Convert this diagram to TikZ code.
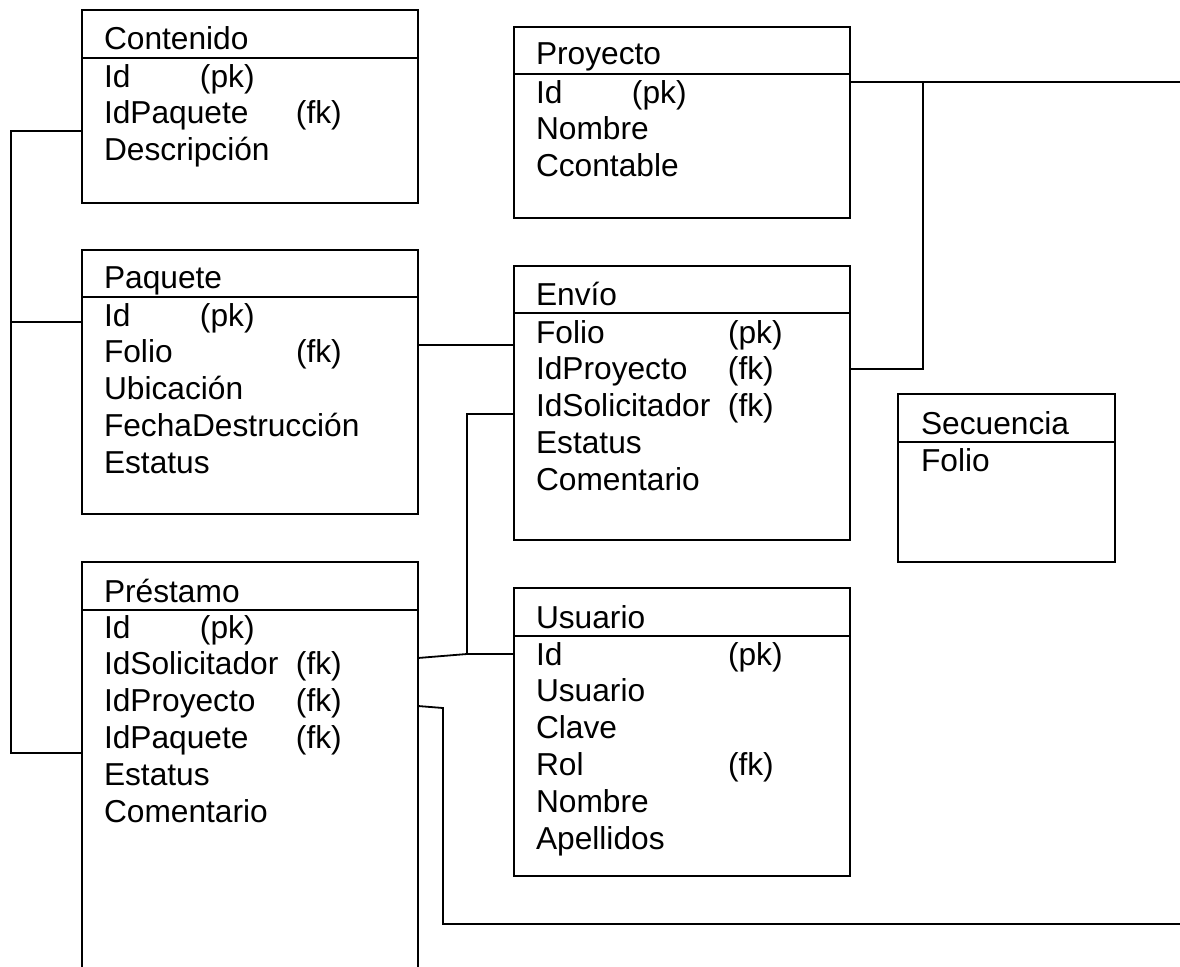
\documentclass[tikz,border=0pt]{standalone}
\usepackage{fontspec}
\setmainfont{Liberation Sans}
% field name padded to a fixed tab, followed by its key marker
\newcommand\colS[2]{\makebox[96pt][l]{#1}#2}
\newcommand\colL[2]{\makebox[192pt][l]{#1}#2}
% one text node per field line, named <table>-<n>
\newcommand\fieldrows[4]{%
  \foreach \t [count=\i] in {#4} {\node[txt] (#1-\i) at (#2,{#3+36.8*(\i-1)}) {\t};}}
\begin{document}
\begin{tikzpicture}[x=1pt,y=-1pt,
  tbl/.style={draw, line width=1.8pt, anchor=north west, inner sep=0pt, outer sep=0pt},
  sep/.style={line width=1.8pt},
  txt/.style={anchor=base west, inner sep=0pt, outer sep=0pt, font=\fontsize{31.7}{36.8}\selectfont},
  link/.style={line width=1.8pt},
  thinlink/.style={line width=1.2pt}]
\clip (0,0) rectangle (1180,966);

% Contenido
\node[tbl, minimum width=336pt, minimum height=193pt] (conten) at (82,10) {};
\draw[sep] (conten.west |- 0,58) -- (conten.east |- 0,58);
\node[txt] (conten-t) at (104,49) {Contenido};
\fieldrows{conten}{104}{87}{\colS{Id}{(pk)}, \colL{IdPaquete}{(fk)}, Descripción}

% Proyecto
\node[tbl, minimum width=336pt, minimum height=191pt] (proyec) at (514,27) {};
\draw[sep] (proyec.west |- 0,74) -- (proyec.east |- 0,74);
\node[txt] (proyec-t) at (536,65) {Proyecto};
\fieldrows{proyec}{536}{103}{\colS{Id}{(pk)}, Nombre, Ccontable}

% Paquete
\node[tbl, minimum width=336pt, minimum height=264pt] (paquet) at (82,250) {};
\draw[sep] (paquet.west |- 0,297) -- (paquet.east |- 0,297);
\node[txt] (paquet-t) at (104,288) {Paquete};
\fieldrows{paquet}{104}{326}{\colS{Id}{(pk)}, \colL{Folio}{(fk)}, Ubicación, FechaDestrucción, Estatus}

% Envío
\node[tbl, minimum width=336pt, minimum height=274pt] (envio) at (514,266) {};
\draw[sep] (envio.west |- 0,313) -- (envio.east |- 0,313);
\node[txt] (envio-t) at (536,305) {Envío};
\fieldrows{envio}{536}{343}{\colL{Folio}{(pk)}, \colL{IdProyecto}{(fk)}, \colL{IdSolicitador}{(fk)}, Estatus, Comentario}

% Secuencia
\node[tbl, minimum width=217pt, minimum height=168pt] (secuen) at (898,394) {};
\draw[sep] (secuen.west |- 0,442) -- (secuen.east |- 0,442);
\node[txt] (secuen-t) at (921,434) {Secuencia};
\fieldrows{secuen}{921}{471}{Folio}

% Préstamo (runs past the lower edge)
\node[tbl, minimum width=336pt, minimum height=410pt] (presta) at (82,562) {};
\draw[sep] (presta.west |- 0,610) -- (presta.east |- 0,610);
\node[txt] (presta-t) at (104,602) {Préstamo};
\fieldrows{presta}{104}{638}{\colS{Id}{(pk)}, \colL{IdSolicitador}{(fk)}, \colL{IdProyecto}{(fk)}, \colL{IdPaquete}{(fk)}, Estatus, Comentario}

% Usuario
\node[tbl, minimum width=336pt, minimum height=288pt] (usuari) at (514,588) {};
\draw[sep] (usuari.west |- 0,636) -- (usuari.east |- 0,636);
\node[txt] (usuari-t) at (536,628) {Usuario};
\fieldrows{usuari}{536}{665}{\colL{Id}{(pk)}, Usuario, Clave, \colL{Rol}{(fk)}, Nombre, Apellidos}

% relationships
\coordinate (bus) at (11,322);
\draw[link] (conten.west |- 0,131) -- (11,131) |- (presta.west |- 0,753);
\draw[link] (bus) -- (paquet.west |- 0,322);
\draw[thinlink] (paquet.east |- 0,345) -- (envio.west |- 0,345);

\coordinate (proyout) at (1180,82);
\coordinate (proyjoin) at (923,82);
\draw[link] (proyec.east |- 0,82) -- (proyout);
\draw[link] (proyjoin) |- (envio.east |- 0,369);

\coordinate (soljoin) at (467,654);
\draw[link] (presta.east |- 0,658) -- (soljoin) -- (usuari.west |- 0,654);
\draw[link] (soljoin) |- (envio.west |- 0,414);

\coordinate (presout) at (1180,924);
\draw[link] (presta.east |- 0,706) -- (443,708) |- (presout);
\end{tikzpicture}
\end{document}
